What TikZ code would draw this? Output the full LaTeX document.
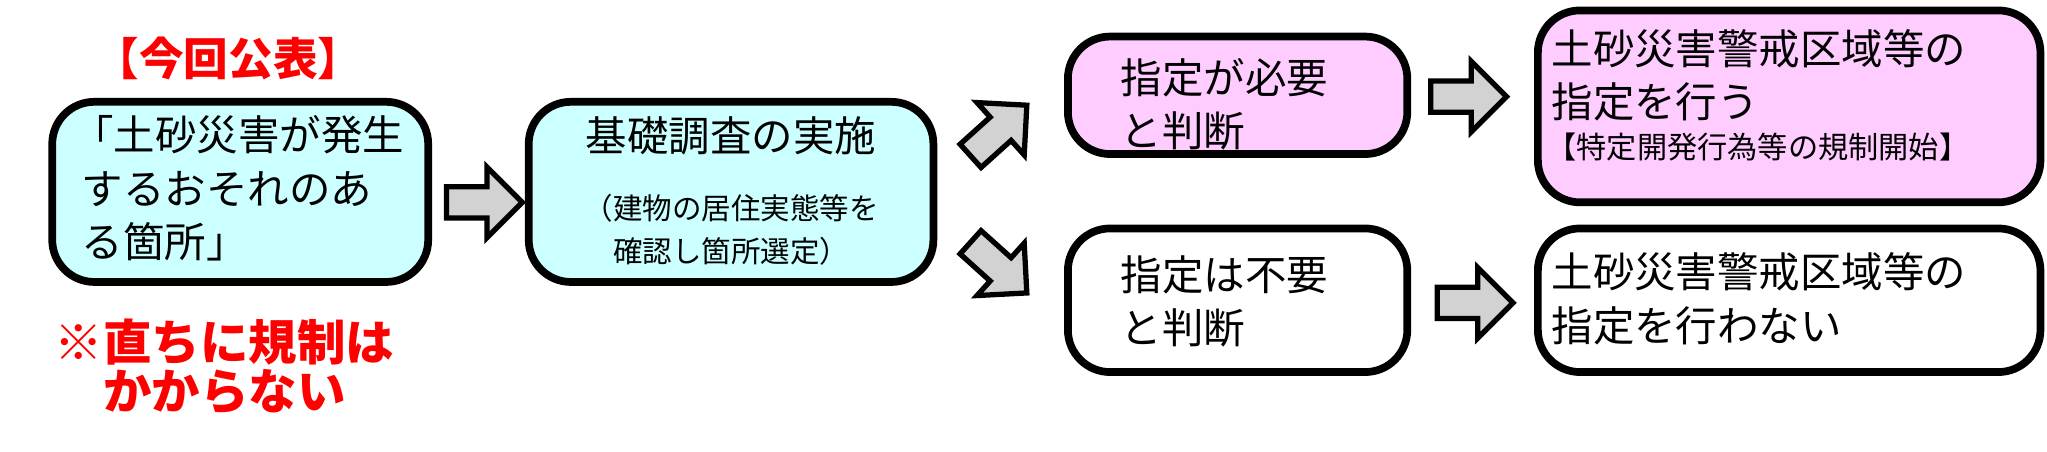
\documentclass[tikz,border=0pt]{standalone}
\usepackage{fontspec}
\setmainfont{Noto Sans CJK JP}
\definecolor{cy}{HTML}{CCFFFF}
\definecolor{pk}{HTML}{FFCCFF}
\definecolor{rd}{HTML}{FF0000}
\begin{document}
\begin{tikzpicture}[x=0.013055cm,y=-0.013055cm,
  box/.style={draw,line width=2.2pt,rounded corners=12pt,inner sep=0pt},
  txt/.style={anchor=north west,align=left,font=\fontsize{11.8pt}{15.2pt}\selectfont,inner sep=0pt},
  blk/.style={draw,fill=gray!35,line width=1.5pt,line join=miter}]
\useasboundingbox (0,0) rectangle (1568,346);
\node[font=\fontsize{12.7pt}{14pt}\selectfont\bfseries,text=rd] (t) at (175,45) {【今回公表】};
\draw[box,fill=cy] (40,78) rectangle (328,216);
\node[txt] (b1) at (55,88) {「土砂災害が発生\\\ するおそれのあ\\\ る箇所」};
\node[text=rd,align=center,font=\fontsize{13.8pt}{14pt}\selectfont\bfseries] (n) at (172,281) {※直ちに規制は\\かからない};
\draw[box,fill=cy] (405,78) rectangle (715,216);
\node[font=\fontsize{11.8pt}{14pt}\selectfont] (b2) at (560,104) {基礎調査の実施};
\node[align=center,font=\fontsize{8.4pt}{12pt}\selectfont] (b2s) at (560,176) {（建物の居住実態等を\\確認し箇所選定）};
\draw[box,fill=pk] (818,28) rectangle (1078,118);
\node[txt] (b3) at (858,44) {指定が必要\\と判断};
\draw[box,fill=white] (818,175) rectangle (1078,285);
\node[txt] (b4) at (858,195) {指定は不要\\と判断};
\draw[box,fill=pk] (1178,8) rectangle (1563,155);
\node[txt] (b5) at (1188,22) {土砂災害警戒区域等の\\指定を行う};
\node[anchor=west,font=\fontsize{8.6pt}{11pt}\selectfont,inner sep=0pt] (b5s) at (1184,113) {【特定開発行為等の規制開始】};
\draw[box,fill=white] (1178,175) rectangle (1563,285);
\node[txt] (b6) at (1188,193) {土砂災害警戒区域等の\\指定を行わない};
\foreach \cx/\cy/\r in {371/155/0, 765/100/42, 765/205/-42, 1125/74/0, 1130/232/0}{
  \draw[blk,shift={(\cx,\cy)},rotate=\r] (-29,-12) -- (2,-12) -- (2,-27) -- (29,0) -- (2,27) -- (2,12) -- (-29,12) -- cycle;
}
\end{tikzpicture}
\end{document}
